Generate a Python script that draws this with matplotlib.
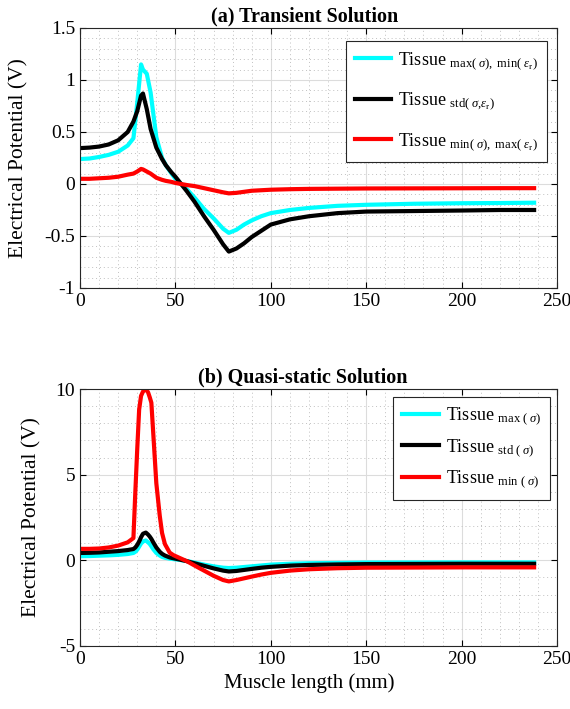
import numpy as np
import matplotlib
matplotlib.use("Agg")
import matplotlib.pyplot as plt
from matplotlib.ticker import MultipleLocator

plt.rcParams['font.family'] = ['Liberation Serif', 'DejaVu Serif']
plt.rcParams['mathtext.fontset'] = 'custom'
plt.rcParams['mathtext.rm'] = 'Liberation Serif'
plt.rcParams['mathtext.it'] = 'Liberation Serif:italic'
plt.rcParams['axes.unicode_minus'] = False

# (a) transient solution
x_a = [0, 5, 10, 15, 20, 25, 28, 30, 32, 33, 35, 37, 40, 43, 45, 48, 50, 53, 56,
       60, 65, 70, 75, 78, 82, 86, 90, 95, 100, 110, 120, 135, 150, 175, 200, 220, 238]
cyan_a = [0.24, 0.245, 0.26, 0.28, 0.31, 0.37, 0.44, 0.78, 1.15, 1.10, 1.06, 0.88, 0.45,
          0.25, 0.18, 0.10, 0.05, 0.0, -0.05, -0.13, -0.24, -0.33, -0.43, -0.47, -0.44,
          -0.39, -0.35, -0.31, -0.28, -0.25, -0.23, -0.21, -0.20, -0.19, -0.185, -0.183, -0.18]
black_a = [0.345, 0.35, 0.36, 0.38, 0.42, 0.50, 0.60, 0.70, 0.85, 0.87, 0.72, 0.53, 0.35,
           0.24, 0.18, 0.11, 0.07, 0.0, -0.07, -0.17, -0.31, -0.44, -0.58, -0.65, -0.62,
           -0.57, -0.51, -0.45, -0.39, -0.34, -0.31, -0.28, -0.265, -0.26, -0.255, -0.25, -0.25]
red_a = [0.05, 0.05, 0.055, 0.06, 0.07, 0.09, 0.10, 0.12, 0.145, 0.14, 0.12, 0.10, 0.06,
         0.04, 0.03, 0.02, 0.01, 0.0, -0.01, -0.02, -0.04, -0.06, -0.08, -0.09, -0.085,
         -0.075, -0.065, -0.06, -0.055, -0.05, -0.047, -0.045, -0.043, -0.042, -0.041, -0.04, -0.04]

# (b) quasi-static solution
x_b = [0, 5, 10, 15, 20, 25, 28, 29, 30, 31, 32, 33, 34.5, 35.7, 36.6, 37.4, 38.4, 40, 41.8,
       43, 44.5, 47, 49, 52, 56, 60, 65, 70, 75, 78, 82, 86, 90, 95, 100, 110, 120, 135,
       150, 175, 200, 220, 238]
cyan_b = [0.24, 0.25, 0.27, 0.29, 0.32, 0.37, 0.43, 0.5, 0.62, 0.8, 0.98, 1.1, 1.16, 1.05,
          0.95, 0.82, 0.65, 0.43, 0.28, 0.2, 0.15, 0.1, 0.07, 0.03, -0.04, -0.13, -0.25,
          -0.35, -0.43, -0.45, -0.43, -0.39, -0.35, -0.3, -0.25, -0.2, -0.17, -0.15, -0.13,
          -0.125, -0.12, -0.12, -0.12]
black_b = [0.43, 0.44, 0.46, 0.5, 0.54, 0.6, 0.66, 0.75, 0.9, 1.1, 1.35, 1.55, 1.62, 1.5,
           1.38, 1.25, 1.05, 0.75, 0.5, 0.38, 0.28, 0.17, 0.12, 0.05, -0.05, -0.17, -0.32,
           -0.47, -0.6, -0.65, -0.62, -0.56, -0.5, -0.43, -0.38, -0.31, -0.27, -0.24, -0.22,
           -0.21, -0.2, -0.2, -0.2]
red_b = [0.67, 0.67, 0.69, 0.75, 0.86, 1.05, 1.3, 4.0, 6.5, 8.8, 9.6, 9.85, 10.0, 9.8, 9.5,
         9.2, 7.4, 4.5, 2.6, 1.6, 0.95, 0.45, 0.3, 0.15, -0.05, -0.3, -0.6, -0.9, -1.15,
         -1.23, -1.15, -1.05, -0.95, -0.83, -0.73, -0.6, -0.52, -0.46, -0.43, -0.42, -0.41,
         -0.41, -0.41]

labels_a = [r'Tissue $_{\mathrm{max(}\ \sigma\mathrm{),\ min(}\ \epsilon_{\mathrm{r}}\mathrm{)}}$',
            r'Tissue $_{\mathrm{std(}\ \sigma\mathrm{,}\epsilon_{\mathrm{r}}\mathrm{)}}$',
            r'Tissue $_{\mathrm{min(}\ \sigma\mathrm{),\ max(}\ \epsilon_{\mathrm{r}}\mathrm{)}}$']
labels_b = [r'Tissue $_{\mathrm{max\ (}\ \sigma\mathrm{)}}$',
            r'Tissue $_{\mathrm{std\ (}\ \sigma\mathrm{)}}$',
            r'Tissue $_{\mathrm{min\ (}\ \sigma\mathrm{)}}$']

colors = ['#00ffff', 'black', 'red']

fig = plt.figure(figsize=(5.7, 7.09), dpi=100)
ax1 = fig.add_axes([80 / 570, 1 - 288 / 709, 477 / 570, 260 / 709])
ax2 = fig.add_axes([80 / 570, 1 - 646 / 709, 477 / 570, 257 / 709])


def style(ax):
    ax.set_xlim(0, 250)
    ax.xaxis.set_major_locator(MultipleLocator(50))
    ax.xaxis.set_minor_locator(MultipleLocator(10))
    ax.grid(True, which='major', color='#dcdcdc', linewidth=0.8)
    ax.grid(True, which='minor', color='#c0c0c0', linestyle=(0, (1, 3)), linewidth=0.7)
    ax.set_axisbelow(True)
    ax.tick_params(which='both', direction='in', top=True, right=True, labelsize=14)
    ax.tick_params(which='minor', length=0)
    ax.tick_params(which='major', length=4)
    for s in ax.spines.values():
        s.set_linewidth(0.8)
        s.set_color('#262626')
    ax.set_ylabel('Electrical Potential (V)', fontsize=15.5)


for x, ys, ax, labels in [(x_a, [cyan_a, black_a, red_a], ax1, labels_a),
                          (x_b, [cyan_b, black_b, red_b], ax2, labels_b)]:
    for y, c, lab in zip(ys, colors, labels):
        ax.plot(x, y, color=c, linewidth=3, label=lab, solid_joinstyle='round')
    style(ax)

ax1.set_ylim(-1, 1.5)
ax1.yaxis.set_minor_locator(MultipleLocator(0.1))
ax1.set_yticks([-1, -0.5, 0, 0.5, 1, 1.5])
ax1.set_yticklabels(['-1', '-0.5', '0', '0.5', '1', '1.5'])
ax1.set_title('(a) Transient Solution', fontsize=14.5, fontweight='bold', pad=5, x=0.47)
ax1.yaxis.set_label_coords(-0.107, 0.5)

ax2.set_ylim(-5, 10)
ax2.yaxis.set_major_locator(MultipleLocator(5))
ax2.yaxis.set_minor_locator(MultipleLocator(1))
ax2.set_title('(b) Quasi-static Solution', fontsize=14.5, fontweight='bold', pad=5, x=0.467)
ax2.set_xlabel('Muscle length (mm)', fontsize=15, x=0.48)
ax2.yaxis.set_label_coords(-0.08, 0.5)

for ax, loc, sp in [(ax1, (0.557, 0.485), 1.05), (ax2, (0.657, 0.57), 0.55)]:
    leg = ax.legend(loc='lower left', bbox_to_anchor=loc, fontsize=13, fancybox=False,
                    framealpha=1, edgecolor='#262626', handlelength=2.0, handletextpad=0.4,
                    labelspacing=sp, borderpad=0.5, borderaxespad=0)
    leg.get_frame().set_linewidth(0.8)

fig.savefig('out.png', dpi=100)
